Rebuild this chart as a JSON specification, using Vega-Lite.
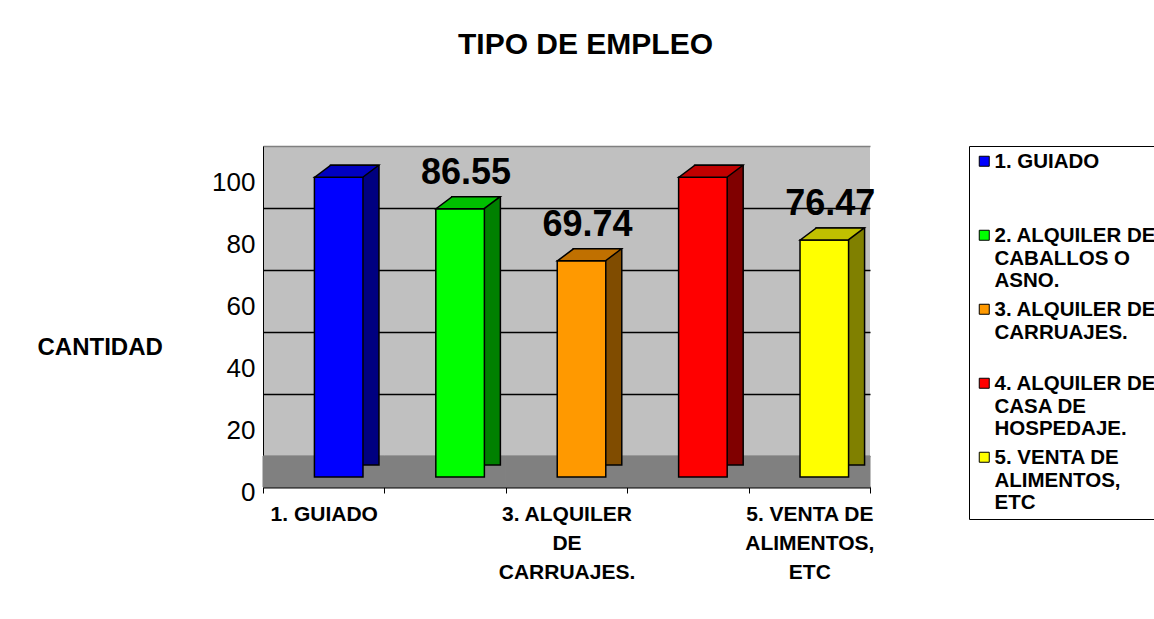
{
  "$schema": "https://vega.github.io/schema/vega-lite/v6.json",
  "width": 607,
  "height": 341,
  "autosize": {"type": "none"},
  "padding": {"left": 263, "top": 146, "right": 284, "bottom": 132},
  "background": "white",
  "config": {
    "font": "Liberation Sans",
    "view": {"fill": "#C0C0C0", "stroke": null}
  },
  "title": {
    "text": "TIPO DE EMPLEO",
    "fontSize": 30,
    "fontWeight": "bold",
    "font": "Liberation Sans",
    "color": "black",
    "anchor": "middle",
    "frame": "group",
    "baseline": "alphabetic",
    "offset": 62,
    "dx": 19
  },
  "data": {
    "values": [
      {"tipo": "1. GUIADO", "valor": 96.7},
      {"tipo": "2. ALQUILER DE CABALLOS O ASNO.", "valor": 86.55},
      {"tipo": "3. ALQUILER DE CARRUAJES.", "valor": 69.74},
      {"tipo": "4. ALQUILER DE CASA DE HOSPEDAJE.", "valor": 96.7},
      {"tipo": "5. VENTA DE ALIMENTOS, ETC", "valor": 76.47}
    ]
  },
  "encoding": {
    "x": {
      "field": "tipo",
      "type": "nominal",
      "sort": null,
      "scale": {"paddingInner": 0, "paddingOuter": 0},
      "axis": {
        "title": null,
        "tickBand": "extent",
        "domainColor": "black",
        "domainWidth": 2,
        "tickColor": "black",
        "tickSize": 6,
        "labelAngle": 0,
        "labelFont": "Liberation Sans",
        "labelFontSize": 21,
        "labelFontWeight": "bold",
        "labelColor": "black",
        "labelBaseline": "top",
        "labelLineHeight": 29,
        "labelPadding": 10,
        "labelLimit": 400,
        "labelExpr": "datum.value == '1. GUIADO' ? '1. GUIADO' : datum.value == '3. ALQUILER DE CARRUAJES.' ? ['3. ALQUILER', 'DE', 'CARRUAJES.'] : datum.value == '5. VENTA DE ALIMENTOS, ETC' ? ['5. VENTA DE', 'ALIMENTOS,', 'ETC'] : ''"
      }
    },
    "y": {
      "field": "valor",
      "type": "quantitative",
      "scale": {"domain": [0, 110], "nice": false},
      "axis": {
        "title": "CANTIDAD",
        "titleAngle": 0,
        "titleX": -226,
        "titleY": 201,
        "titleAlign": "left",
        "titleBaseline": "middle",
        "titleFont": "Liberation Sans",
        "titleFontSize": 24,
        "titleFontWeight": "bold",
        "titleColor": "black",
        "values": [0, 20, 40, 60, 80, 100],
        "grid": true,
        "gridColor": {"condition": {"test": "datum.value === 0 || datum.value === 100", "value": "#808080"}, "value": "black"},
        "gridWidth": 1.5,
        "tickOffset": -31,
        "labelOffset": 36,
        "ticks": false,
        "domainColor": "black",
        "labelFont": "Liberation Sans",
        "labelFontSize": 26,
        "labelColor": "black",
        "labelPadding": 8
      }
    }
  },
  "layer": [
    {
      "mark": {"type": "bar", "color": "#808080", "stroke": "#808080", "strokeWidth": 1, "opacity": 1, "width": {"band": 1}},
      "encoding": {
        "y": {"datum": 0, "type": "quantitative"},
        "y2": {"datum": 10}
      }
    },
    {
      "mark": {"type": "bar", "width": {"band": 0.4}, "xOffset": 31, "yOffset": -22, "stroke": "black", "strokeWidth": 1.5},
      "encoding": {
        "y": {"field": "valor", "type": "quantitative"},
        "color": {
          "field": "tipo",
          "type": "nominal",
          "sort": null,
          "scale": {"range": ["#000080", "#008000", "#804C00", "#800000", "#808000"]},
          "legend": null
        }
      }
    },
    {
      "mark": {"type": "bar", "width": {"band": 0.4}, "xOffset": 15, "yOffset": -10, "stroke": "black", "strokeWidth": 1.5, "opacity": 1},
      "encoding": {
        "color": {
          "field": "tipo",
          "type": "nominal",
          "sort": null,
          "scale": {"range": ["#0000FF", "#00FF00", "#FF9900", "#FF0000", "#FFFF00"]},
          "legend": {
            "title": null,
            "orient": "right",
            "offset": 99,
            "strokeColor": "black",
            "fillColor": "white",
            "padding": 5,
            "symbolType": "square",
            "symbolSize": 100,
            "symbolStrokeColor": "black",
            "symbolStrokeWidth": 1,
            "symbolOpacity": 1,
            "labelFont": "Liberation Sans",
            "labelFontSize": 20.5,
            "labelFontWeight": "bold",
            "labelColor": "black",
            "labelBaseline": "alphabetic",
            "labelLineHeight": 23,
            "labelOffset": 0,
            "labelLimit": 400,
            "rowPadding": 7,
            "gridAlign": "all",
            "encoding": {"labels": {"dy": {"value": 7}}},
            "labelExpr": "datum.label == '1. GUIADO' ? '1. GUIADO' : datum.label == '2. ALQUILER DE CABALLOS O ASNO.' ? ['2. ALQUILER DE', 'CABALLOS O', 'ASNO.'] : datum.label == '3. ALQUILER DE CARRUAJES.' ? ['3. ALQUILER DE', 'CARRUAJES.'] : datum.label == '4. ALQUILER DE CASA DE HOSPEDAJE.' ? ['4. ALQUILER DE', 'CASA DE', 'HOSPEDAJE.'] : ['5. VENTA DE', 'ALIMENTOS,', 'ETC']"
          }
        }
      }
    },
    {
      "mark": {"type": "point", "filled": true, "opacity": 1, "shape": "M-1,0.1875L0.5,0.1875L1,-0.1875L-0.5,-0.1875Z", "size": 4096, "xOffset": 23, "yOffset": -16, "stroke": "black", "strokeWidth": 1.5},
      "encoding": {
        "color": {
          "field": "tipo",
          "type": "nominal",
          "sort": null,
          "scale": {"range": ["#0000C0", "#00C000", "#C07000", "#C00000", "#C0C000"]},
          "legend": null
        }
      }
    },
    {
      "transform": [{"filter": {"field": "tipo", "oneOf": ["2. ALQUILER DE CABALLOS O ASNO.", "3. ALQUILER DE CARRUAJES.", "5. VENTA DE ALIMENTOS, ETC"]}}],
      "mark": {"type": "text", "dx": 21, "dy": -35, "baseline": "alphabetic", "fontSize": 36, "fontWeight": "bold", "font": "Liberation Sans", "color": "black"},
      "encoding": {
        "text": {"field": "valor", "type": "quantitative", "format": ".2f"}
      }
    }
  ],
  "resolve": {"scale": {"color": "independent"}}
}
